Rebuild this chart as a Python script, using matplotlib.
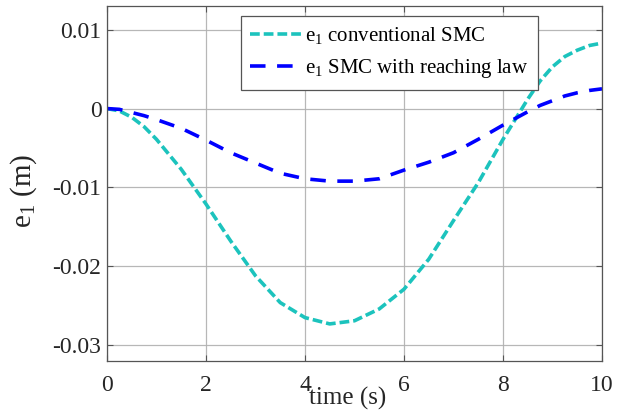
import numpy as np
import matplotlib
matplotlib.use("Agg")
import matplotlib.pyplot as plt

plt.rcParams['font.family'] = ['Liberation Serif', 'DejaVu Serif']
plt.rcParams['mathtext.fontset'] = 'custom'
plt.rcParams['mathtext.rm'] = 'Liberation Serif'
plt.rcParams['mathtext.it'] = 'Liberation Serif:italic'

# Tracking error samples
time_s = [0.0, 0.25, 0.5, 0.75, 1.0, 1.5, 2.0, 2.5, 3.0, 3.5, 4.0, 4.5, 5.0,
          5.5, 6.0, 6.5, 7.0, 7.5, 8.0, 8.5, 8.75, 9.0, 9.25, 9.5, 9.75, 10.0]
e1_conventional = [0.0, -0.0003, -0.0011, -0.0023, -0.0039, -0.0077, -0.0121,
                   -0.0168, -0.0212, -0.0246, -0.0265, -0.0273, -0.0269,
                   -0.0254, -0.0229, -0.0191, -0.0142, -0.0094, -0.0039,
                   0.0012, 0.0035, 0.0053, 0.0066, 0.0074, 0.0080, 0.0083]
e1_reaching = [0.0, -0.0001, -0.0005, -0.0009, -0.0014, -0.0025, -0.0040,
               -0.0056, -0.0069, -0.0082, -0.0089, -0.0092, -0.0092,
               -0.0089, -0.0078, -0.0068, -0.0056, -0.0039, -0.0021,
               -0.0004, 0.0004, 0.0010, 0.0016, 0.0020, 0.0023, 0.0025]

xticks = [0, 2, 4, 6, 8, 10]
yticks = [-0.03, -0.02, -0.01, 0, 0.01]
yticklabels = ['-0.03', '-0.02', '-0.01', '0', '0.01']

fig = plt.figure(figsize=(6.17, 4.12), dpi=100)
ax = fig.add_axes([0.1734, 0.1238, 0.8023, 0.8616])

ax.plot(time_s, e1_conventional, color='#1cc3bd', lw=2.6,
        dashes=(2.7, 1.1), label=r'$\mathregular{e_1}$ conventional SMC')
ax.plot(time_s, e1_reaching, color='#0000ff', lw=2.6,
        dashes=(4.3, 3.2), label=r'$\mathregular{e_1}$ SMC with reaching law')

ax.set_xlim(0, 10)
ax.set_ylim(-0.032, 0.013)
ax.set_xticks(xticks)
ax.set_xticklabels([str(t) for t in xticks])
ax.set_yticks(yticks)
ax.set_yticklabels(yticklabels)

ax.grid(True, color='#b0b0b0', lw=0.9, alpha=0.9)
ax.set_axisbelow(True)
for sp in ax.spines.values():
    sp.set_color('#555555')
    sp.set_linewidth(0.9)
ax.tick_params(direction='in', length=4, width=0.8, colors='#555555',
               labelcolor='#262626', labelsize=17, top=True, right=True)
ax.tick_params(axis='x', pad=10)
ax.tick_params(axis='y', pad=4)

ax.set_xlabel('time (s)', fontsize=18, color='#262626')
ax.xaxis.set_label_coords(0.487, -0.072)
ax.set_ylabel(r'$\mathregular{e_1}$ (m)', fontsize=21, color='#262626')
ax.yaxis.set_label_coords(-0.138, 0.48)

leg = ax.legend(loc='upper left', bbox_to_anchor=(0.27, 0.973), fontsize=15,
                frameon=True, fancybox=False, framealpha=1, edgecolor='#555555',
                handlelength=2.5, borderpad=0.45, labelspacing=0.55,
                handletextpad=0.15, borderaxespad=0.0)
leg.get_frame().set_linewidth(0.9)

fig.savefig('out.png', dpi=100)
